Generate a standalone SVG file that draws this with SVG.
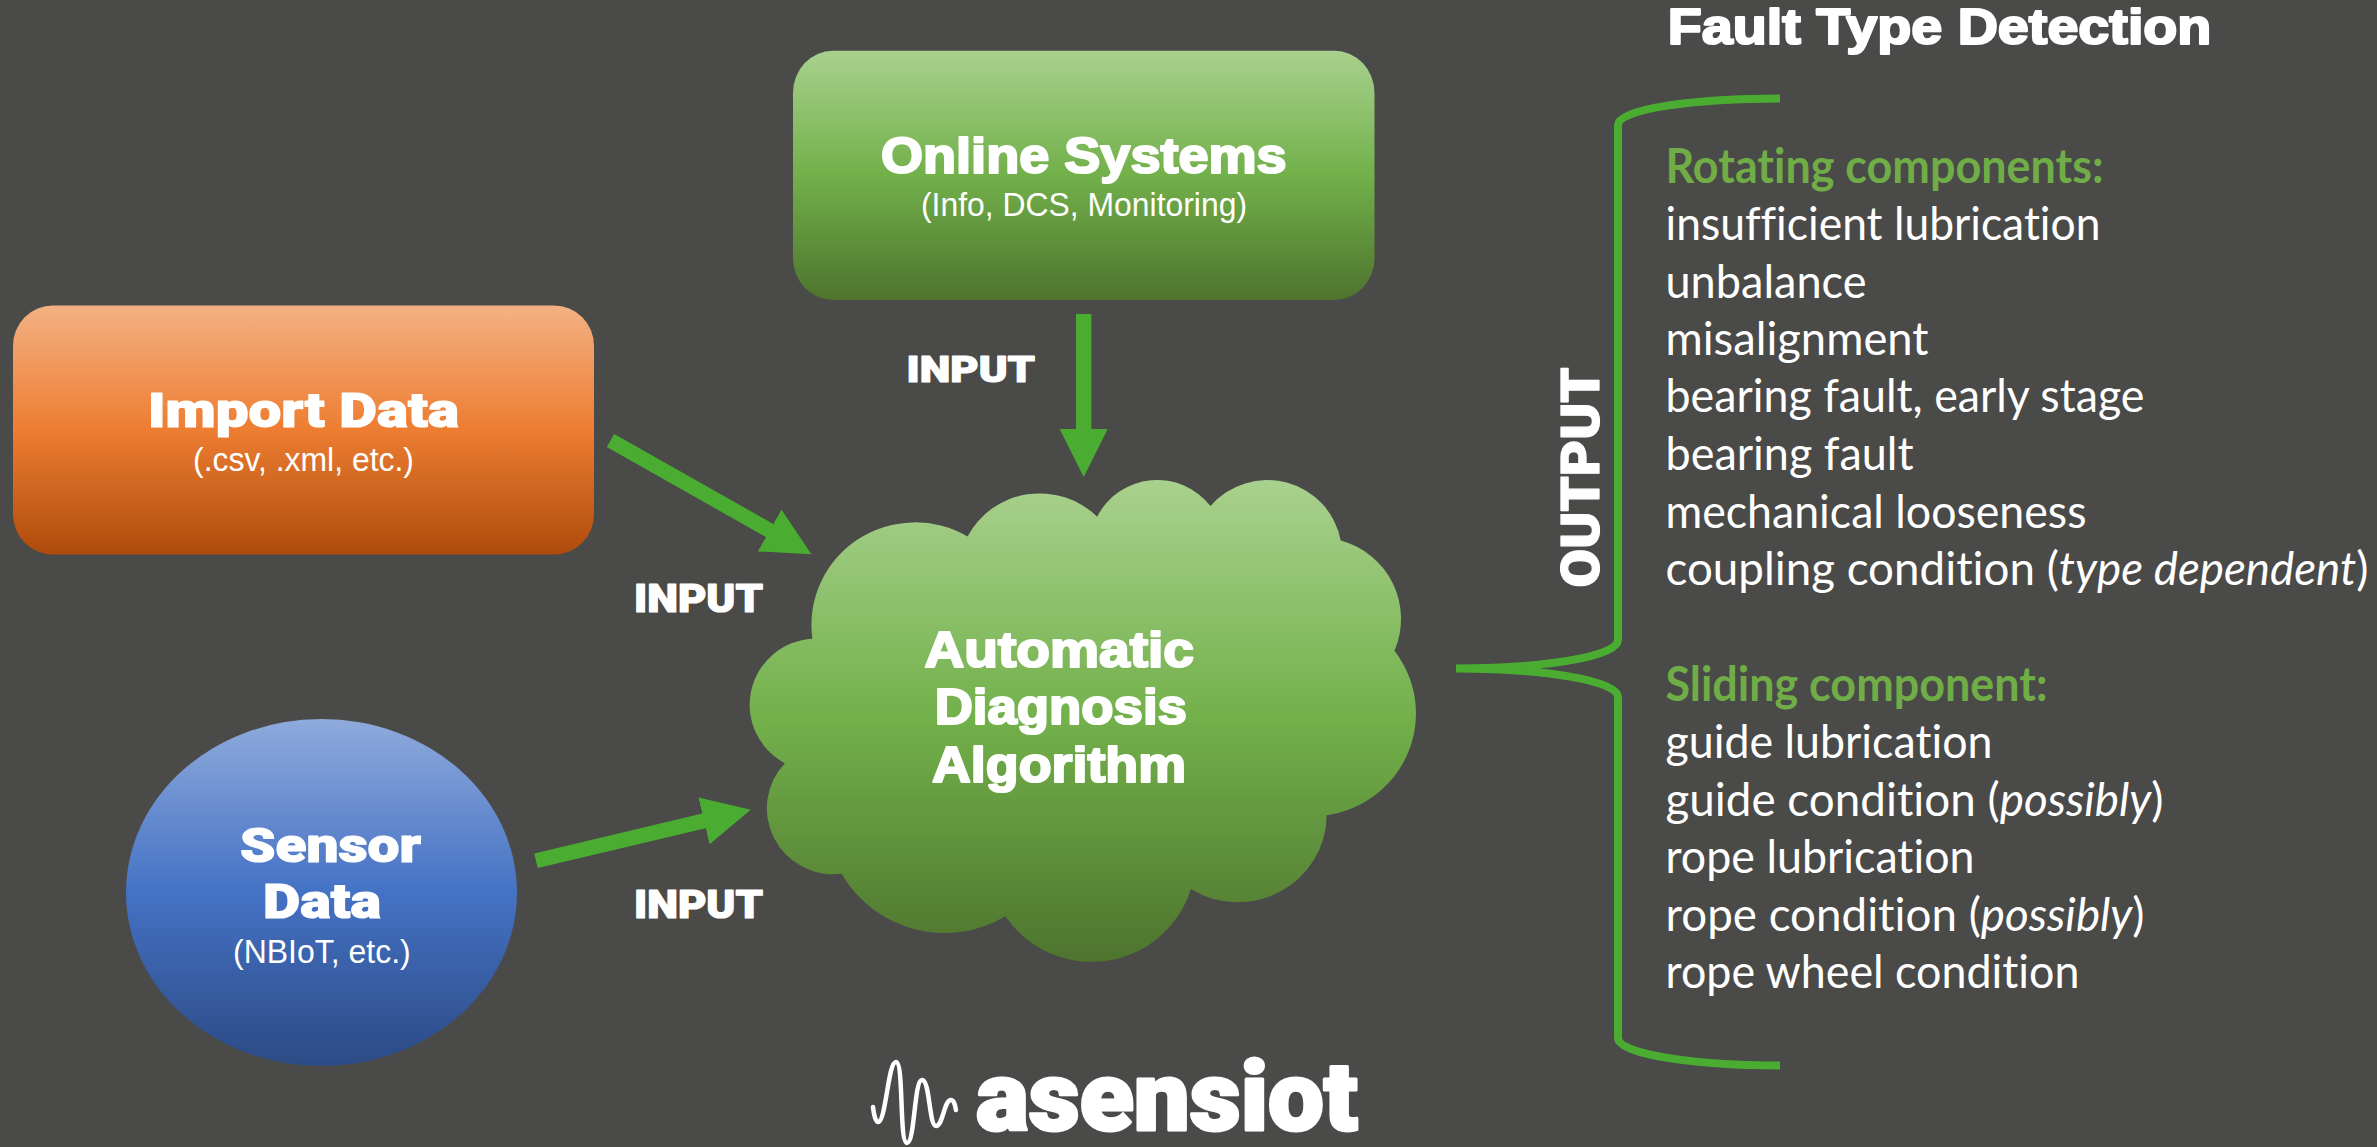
<svg xmlns="http://www.w3.org/2000/svg" width="2377" height="1147" viewBox="0 0 2377 1147">
<style>
text{fill:#fff}
.h{font-family:"Liberation Sans",Arial,sans-serif;font-weight:700;stroke:#fff;stroke-width:2.2;paint-order:stroke;stroke-linejoin:round}
.k{font-family:Roboto,"Liberation Sans",sans-serif;font-weight:900;fill:#fff;stroke:#fff;stroke-width:1.2;stroke-linejoin:round}
.s{font-family:"Liberation Sans",Arial,sans-serif;font-size:33px}
.b{font-family:Lato,"Open Sans",sans-serif;font-size:47px;font-variant-ligatures:none}
.g{fill:#70AD47;font-weight:700}
.it{font-style:italic}
.ln{fill:none;stroke:#4AAD32}
</style>
<defs>
<linearGradient id="gg" x1="0" y1="0" x2="0" y2="1"><stop offset="0" stop-color="#A9D18E"/><stop offset=".5" stop-color="#72B04A"/><stop offset="1" stop-color="#4E742E"/></linearGradient>
<linearGradient id="go" x1="0" y1="0" x2="0" y2="1"><stop offset="0" stop-color="#F4B183"/><stop offset=".5" stop-color="#ED7D31"/><stop offset="1" stop-color="#AE4B0C"/></linearGradient>
<linearGradient id="gb" x1="0" y1="0" x2="0" y2="1"><stop offset="0" stop-color="#8FAADC"/><stop offset=".5" stop-color="#4472C4"/><stop offset="1" stop-color="#2C4A85"/></linearGradient>
<marker id="ah" markerUnits="userSpaceOnUse" markerWidth="50" markerHeight="50" refX="1" refY="24" orient="auto"><path d="M0 0L48 24L0 48z" fill="#4AAD32"/></marker>
</defs>
<rect width="2377" height="1147" fill="#4A4A49"/>
<g id="connectors">
<line class="ln" stroke-width="15.3" x1="1083.7" y1="314" x2="1083.7" y2="430" marker-end="url(#ah)"/>
<line class="ln" stroke-width="15" x1="610.5" y1="440.5" x2="770.5" y2="531" marker-end="url(#ah)"/>
<line class="ln" stroke-width="15" x1="536" y1="860.7" x2="705" y2="820.6" marker-end="url(#ah)"/>
<path id="brace" class="ln" stroke-width="8" d="M1780 98.5C1700 98.5 1618 108 1618 125V640C1618 657 1540 668.5 1456 668.5C1540 668.5 1618 680 1618 697V1038C1618 1055 1700 1065.5 1780 1065.5"/>
<text class="k" font-size="37" x="906.6" y="381.7" textLength="128.4" lengthAdjust="spacingAndGlyphs">INPUT</text>
<text class="k" font-size="38" x="634" y="611.6" textLength="129" lengthAdjust="spacingAndGlyphs">INPUT</text>
<text class="k" font-size="38" x="634" y="917.8" textLength="129" lengthAdjust="spacingAndGlyphs">INPUT</text>
<text class="k" font-size="53" transform="translate(1598.5 587.4) rotate(-90)" textLength="220" lengthAdjust="spacingAndGlyphs">OUTPUT</text>
</g>
<g id="online-systems">
<rect x="793" y="50.7" width="581.5" height="249.3" rx="40" ry="42" fill="url(#gg)"/>
<text class="h" font-size="50" x="881" y="172.7" textLength="405.7" lengthAdjust="spacingAndGlyphs">Online Systems</text>
<text class="s" x="921" y="216" textLength="326" lengthAdjust="spacingAndGlyphs">(Info, DCS, Monitoring)</text>
</g>
<g id="import-data">
<rect x="13" y="305.5" width="581" height="249" rx="40" ry="40" fill="url(#go)"/>
<text class="k" font-size="49" x="148" y="427" textLength="311" lengthAdjust="spacingAndGlyphs">Import Data</text>
<text class="s" x="193" y="471" textLength="221" lengthAdjust="spacingAndGlyphs">(.csv, .xml, etc.)</text>
</g>
<g id="sensor-data">
<ellipse cx="321.5" cy="892.5" rx="195.5" ry="173.5" fill="url(#gb)"/>
<text class="k" font-size="49" x="240" y="861.6" textLength="181" lengthAdjust="spacingAndGlyphs">Sensor</text>
<text class="k" font-size="49" x="263" y="917.8" textLength="118" lengthAdjust="spacingAndGlyphs">Data</text>
<text class="s" x="233" y="962.7" textLength="177.7" lengthAdjust="spacingAndGlyphs">(NBIoT, etc.)</text>
</g>
<g id="algorithm">
<path fill="url(#gg)" transform="translate(752.5 478.4) scale(.01535 .01115)" d="M3900 14370A6753 9190 0 0 1 14006 5202A5333 7267 0 0 1 22456 3432A4365 5945 0 0 1 29834 2481A4857 6595 0 0 1 38319 5576A5333 7273 0 0 1 41820 15460A6775 9220 0 0 1 37405 30203A5785 7867 0 0 1 28556 36814A6752 9215 0 0 1 16479 39261A7720 10543 0 0 1 5803 35467A4360 5918 0 0 1 2111 25546A4345 5945 0 0 1 3900 14370z"/>
<text class="h" font-size="50" x="924.5" y="667" textLength="269.5" lengthAdjust="spacingAndGlyphs">Automatic</text>
<text class="h" font-size="50" x="934.7" y="724" textLength="252.3" lengthAdjust="spacingAndGlyphs">Diagnosis</text>
<text class="h" font-size="50" x="932" y="782" textLength="254" lengthAdjust="spacingAndGlyphs">Algorithm</text>
</g>
<g id="fault-types">
<text class="h" font-size="50" x="1667.8" y="44" textLength="543.6" lengthAdjust="spacingAndGlyphs">Fault Type Detection</text>
<text class="b g" x="1665.5" y="183" textLength="438" lengthAdjust="spacingAndGlyphs">Rotating components:</text>
<text class="b" x="1665.5" y="240" textLength="435" lengthAdjust="spacingAndGlyphs">insufficient lubrication</text>
<text class="b" x="1665.5" y="297.5" textLength="201" lengthAdjust="spacingAndGlyphs">unbalance</text>
<text class="b" x="1665.5" y="355" textLength="263" lengthAdjust="spacingAndGlyphs">misalignment</text>
<text class="b" x="1665.5" y="412" textLength="479" lengthAdjust="spacingAndGlyphs">bearing fault, early stage</text>
<text class="b" x="1665.5" y="470.4" textLength="248" lengthAdjust="spacingAndGlyphs">bearing fault</text>
<text class="b" x="1665.5" y="528" textLength="421" lengthAdjust="spacingAndGlyphs">mechanical looseness</text>
<text class="b" x="1665.5" y="585.4" textLength="703" lengthAdjust="spacingAndGlyphs">coupling condition (<tspan class="it">type dependent</tspan>)</text>
<text class="b g" x="1665.5" y="701.3" textLength="382" lengthAdjust="spacingAndGlyphs">Sliding component:</text>
<text class="b" x="1665.5" y="758" textLength="327" lengthAdjust="spacingAndGlyphs">guide lubrication</text>
<text class="b" x="1665.5" y="815.5" textLength="498" lengthAdjust="spacingAndGlyphs">guide condition (<tspan class="it">possibly</tspan>)</text>
<text class="b" x="1665.5" y="872.5" textLength="309" lengthAdjust="spacingAndGlyphs">rope lubrication</text>
<text class="b" x="1665.5" y="930.5" textLength="479" lengthAdjust="spacingAndGlyphs">rope condition (<tspan class="it">possibly</tspan>)</text>
<text class="b" x="1665.5" y="987.5" textLength="414" lengthAdjust="spacingAndGlyphs">rope wheel condition</text>
</g>
<g id="logo">
<path fill="none" stroke="#fff" stroke-width="4.5" stroke-linecap="round" d="M873 1107C874 1116 876 1122 878 1122C886 1122 888 1062 896 1062C904 1062 899 1143 907 1143C915 1143 914 1080 922 1080C930 1080 929 1126 936 1126C943 1126 944 1100 951 1100C954 1100 955 1105 956 1110"/>
<text class="k" font-size="96" x="976" y="1130" textLength="382" lengthAdjust="spacingAndGlyphs" style="stroke-width:3">asensiot</text>
</g>
</svg>
